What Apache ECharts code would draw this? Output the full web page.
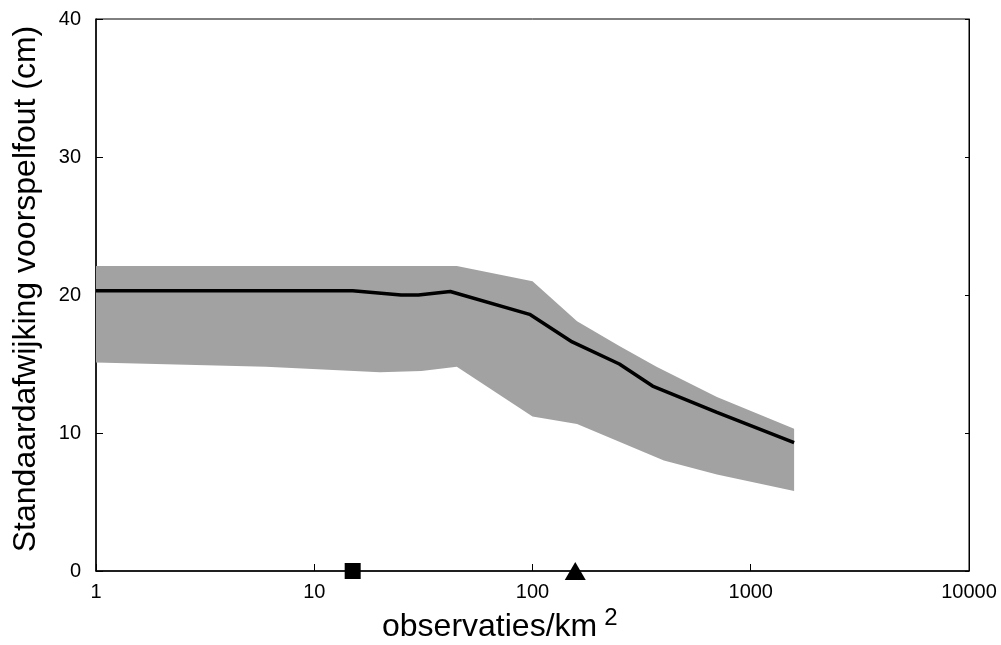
<!DOCTYPE html>
<html>
<head>
<meta charset="utf-8">
<script src="https://cdn.jsdelivr.net/npm/echarts@6/dist/echarts.min.js"></script>
<style>html,body{margin:0;padding:0;background:#fff}#c{width:1001px;height:645px}</style>
</head>
<body>
<div id="c"></div>
<script>
// x = observaties/km2, y = standaardafwijking (cm)
var lineX = [1, 5, 15, 25, 30, 42, 97, 152, 250, 355, 700, 1580];
var lineY = [20.3, 20.3, 20.3, 20.0, 20.0, 20.25, 18.6, 16.6, 15.0, 13.4, 11.5, 9.3];
var upperX = [1, 20, 45, 100, 160, 250, 370, 700, 1580];
var upperY = [22.1, 22.1, 22.1, 21.0, 18.1, 16.3, 14.8, 12.6, 10.3];
var lowerX = [1, 6, 20, 31, 45, 100, 160, 400, 700, 1580];
var lowerY = [15.1, 14.8, 14.4, 14.5, 14.8, 11.2, 10.65, 8.0, 7.0, 5.8];
var squareMark = [[15, 0]];
var triangleMark = [[157, 0]];
var xTicks = [1, 10, 100, 1000, 10000];
var yTicks = [0, 10, 20, 30, 40];

function pairs(xs, ys) { return xs.map(function (x, i) { return [x, ys[i]]; }); }
var lineData = pairs(lineX, lineY);
var upperData = pairs(upperX, upperY);
var lowerData = pairs(lowerX, lowerY);
// polygon: upper edge left->right, lower edge right->left
var bandData = upperData.concat(lowerData.slice().reverse());

var FONT = '"Liberation Sans", Arial, Helvetica, sans-serif';
var chart = echarts.init(document.getElementById('c'), null, { renderer: 'canvas' });
chart.setOption({
  animation: false,
  backgroundColor: '#fff',
  grid: { left: 96, right: 32, top: 19, bottom: 74, show: true, borderColor: '#000', borderWidth: 1, backgroundColor: 'transparent' },
  xAxis: {
    type: 'log', logBase: 10, min: xTicks[0], max: xTicks[xTicks.length - 1],
    axisLine: { show: true, lineStyle: { color: '#000', width: 1.5 } },
    axisTick: { show: true, inside: true, length: 7, lineStyle: { color: '#000', width: 1 } },
    minorTick: { show: false },
    splitLine: { show: false },
    axisLabel: { color: '#000', fontSize: 20, fontFamily: FONT, margin: 11,
      formatter: function (v) { return String(Math.round(v)); } }
  },
  yAxis: [{
    type: 'value', min: yTicks[0], max: yTicks[yTicks.length - 1], interval: 10,
    axisLine: { show: true, lineStyle: { color: '#000', width: 1.5 } },
    axisTick: { show: true, inside: true, length: 7, lineStyle: { color: '#000', width: 1 } },
    splitLine: { show: false },
    axisLabel: { color: '#000', fontSize: 20, fontFamily: FONT, margin: 15 }
  }, {
    type: 'value', min: yTicks[0], max: yTicks[yTicks.length - 1], interval: 10, position: 'right',
    axisLine: { show: true, lineStyle: { color: '#000', width: 1 } },
    axisTick: { show: true, inside: true, length: 4, lineStyle: { color: '#000', width: 1 } },
    splitLine: { show: false },
    axisLabel: { show: false }
  }],
  series: [{
    type: 'custom',
    coordinateSystem: 'cartesian2d',
    data: [0],
    renderItem: function (params, api) {
      var pts = bandData.map(function (d) { return api.coord(d); });
      return { type: 'polygon', shape: { points: pts }, style: { fill: '#a2a2a2', stroke: null } };
    },
    z: 1, silent: true
  }, {
    type: 'line', data: lineData, symbol: 'none', smooth: false,
    lineStyle: { color: '#000', width: 3.5 }, z: 3, silent: true
  }, {
    type: 'scatter', data: squareMark, symbol: 'rect', symbolSize: 16,
    itemStyle: { color: '#000', opacity: 1 }, clip: false, z: 5, silent: true
  }, {
    type: 'scatter', data: triangleMark, symbol: 'triangle', symbolSize: [21, 18],
    itemStyle: { color: '#000', opacity: 1 }, clip: false, z: 5, silent: true
  }],
  graphic: [{
    type: 'text', left: 382, top: 606,
    style: { text: 'observaties/km{s|2}', fontSize: 32, fontFamily: FONT, fill: '#000',
      rich: { s: { fontSize: 24, fontFamily: FONT, fill: '#000', verticalAlign: 'top', padding: [0, 0, 18, 7] } } }
  }, {
    type: 'text', x: 26, y: 289, rotation: Math.PI / 2,
    style: { text: 'Standaardafwijking voorspelfout (cm)', fontSize: 32, fontFamily: FONT, fill: '#000',
      align: 'center', verticalAlign: 'middle' }
  }]
});
</script>
</body>
</html>
